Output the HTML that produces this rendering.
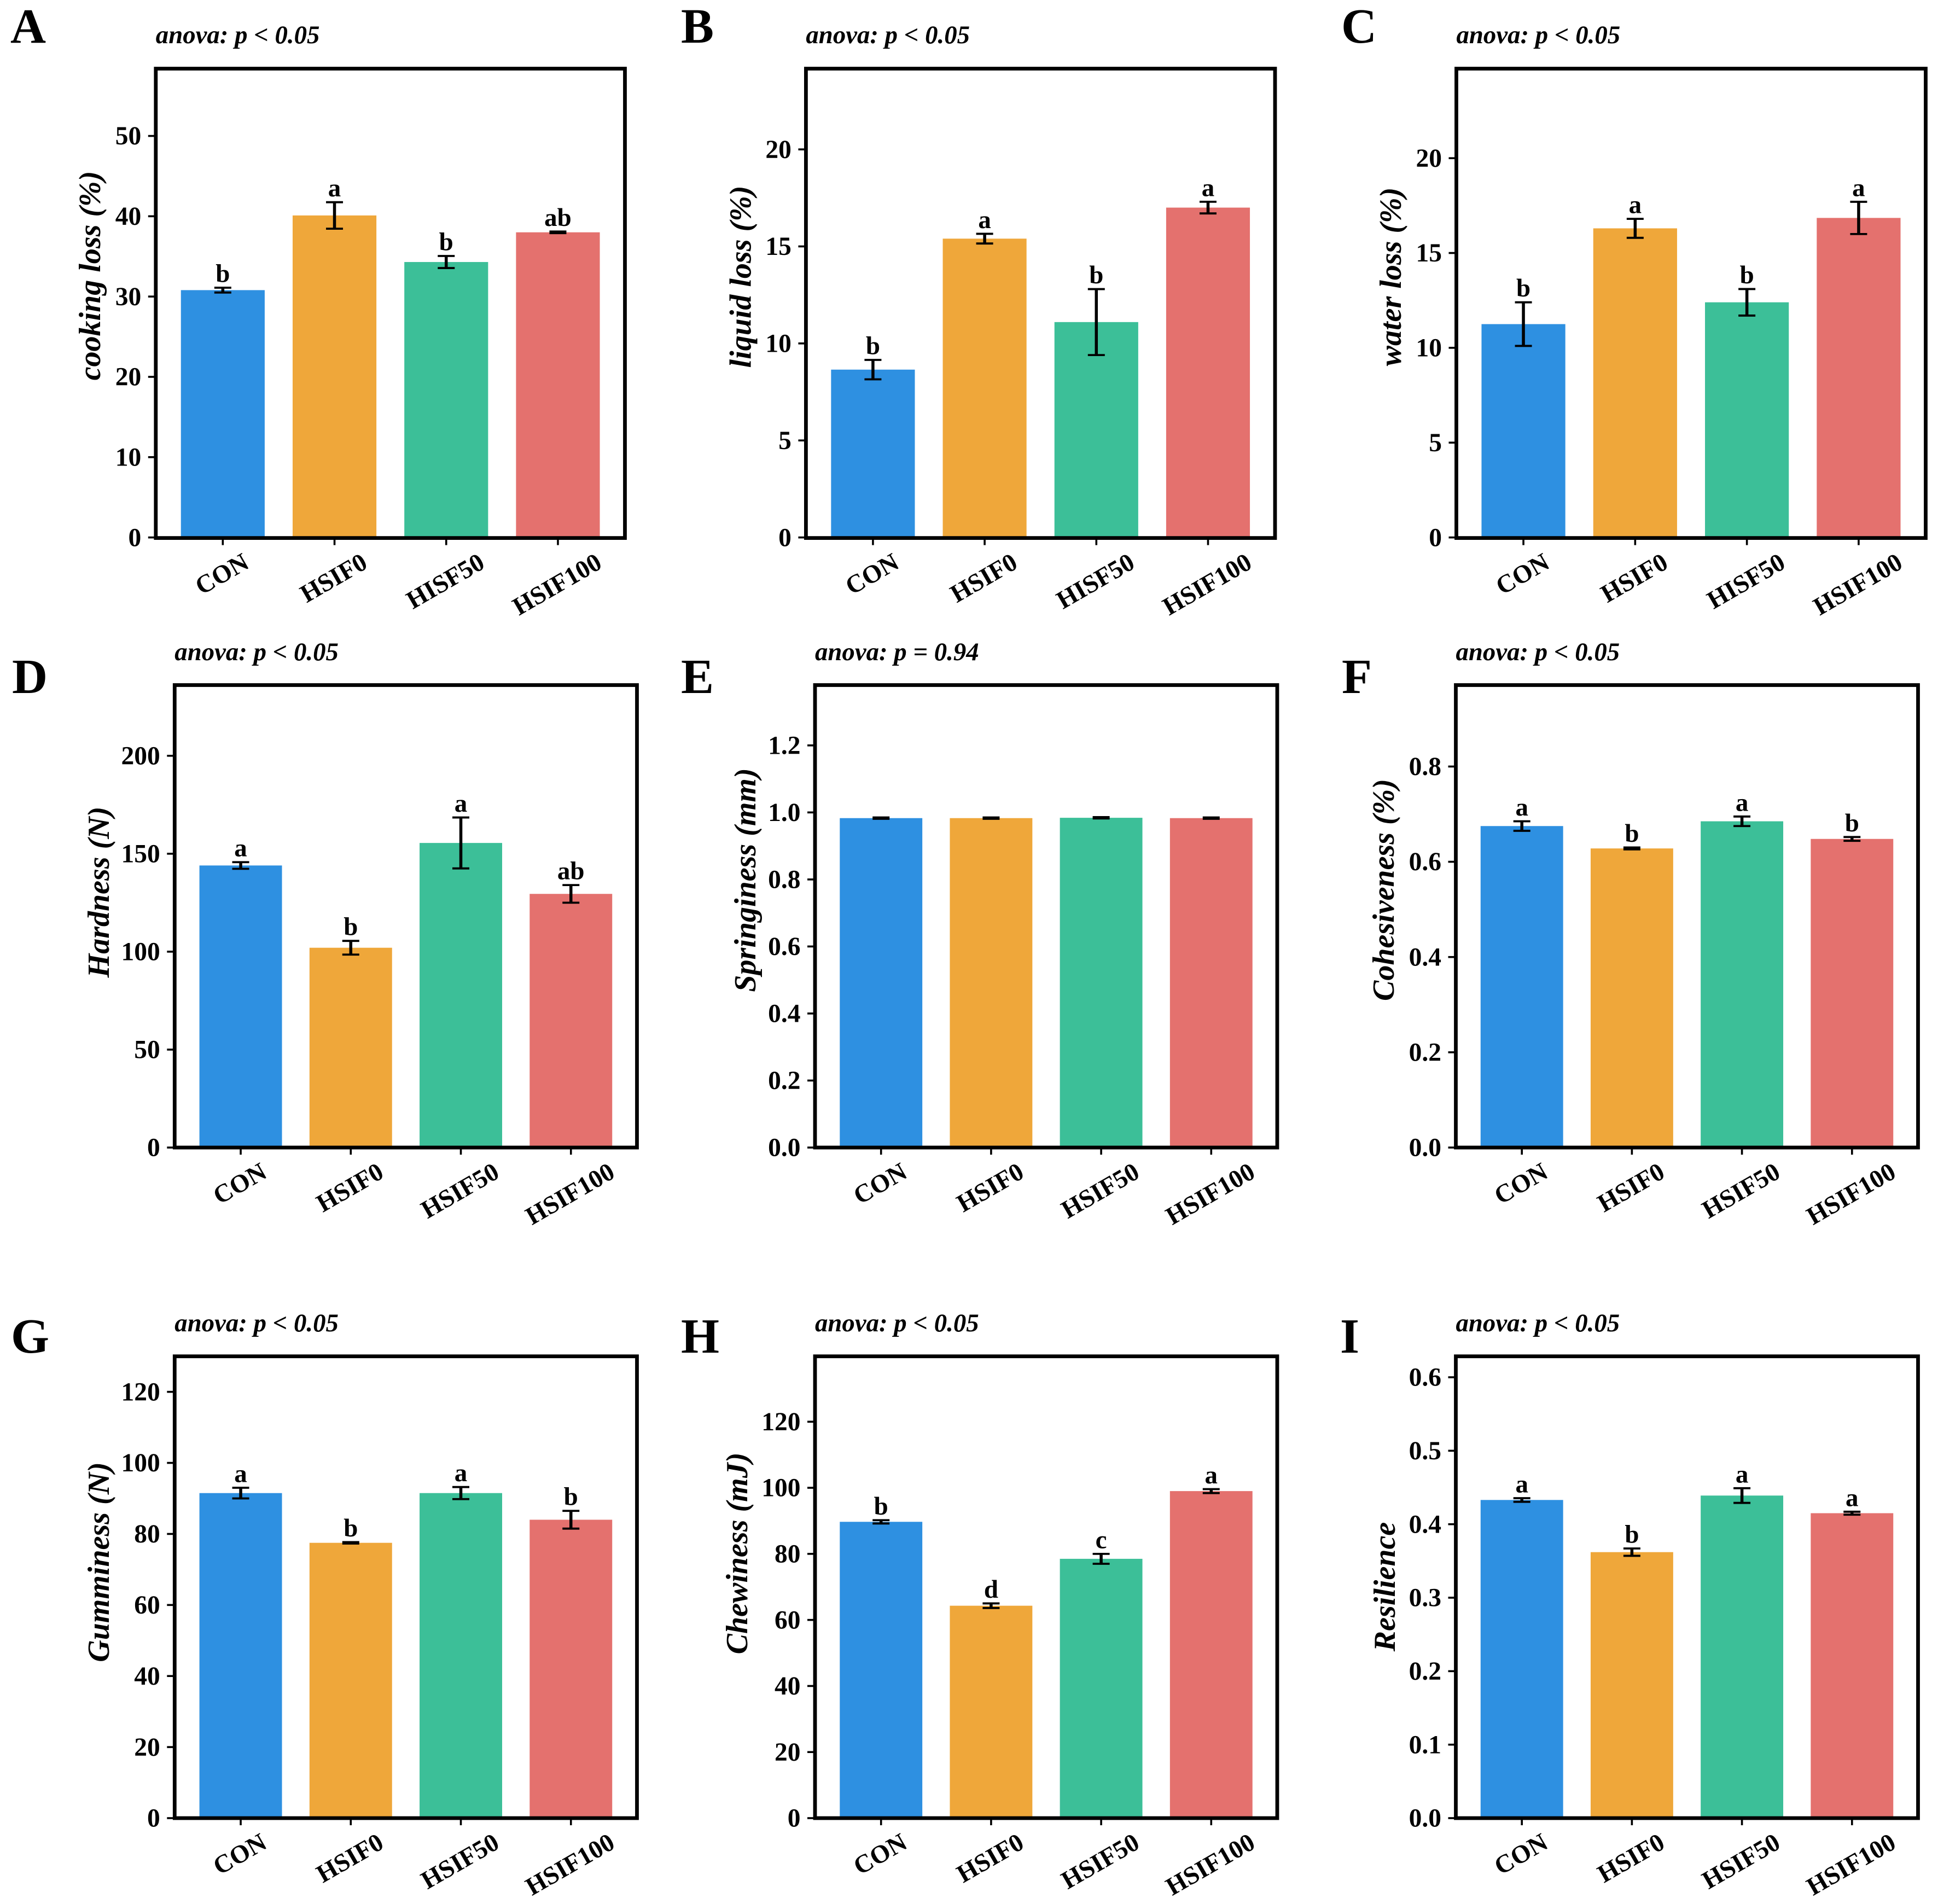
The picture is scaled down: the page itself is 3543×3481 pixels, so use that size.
<!DOCTYPE html>
<html lang="en">
<head>
<meta charset="utf-8">
<title>Cooking loss and texture panels</title>
<style>
html,body{margin:0;padding:0;background:#fff;}
svg{display:block;}
text{font-family:"Liberation Serif",serif;font-weight:bold;fill:#000;}
</style>
</head>
<body>
<svg id="figure" xmlns="http://www.w3.org/2000/svg" width="3543" height="3481" viewBox="0 0 3543 3481"></svg>
<script>
// Chart data
const categoriesA = ['CON', 'HSIF0', 'HISF50', 'HSIF100'];
const categoriesB = ['CON', 'HSIF0', 'HISF50', 'HSIF100'];
const categoriesC = ['CON', 'HSIF0', 'HISF50', 'HSIF100'];
const categoriesD = ['CON', 'HSIF0', 'HSIF50', 'HSIF100'];
const categoriesE = ['CON', 'HSIF0', 'HSIF50', 'HSIF100'];
const categoriesF = ['CON', 'HSIF0', 'HSIF50', 'HSIF100'];
const categoriesG = ['CON', 'HSIF0', 'HSIF50', 'HSIF100'];
const categoriesH = ['CON', 'HSIF0', 'HSIF50', 'HSIF100'];
const categoriesI = ['CON', 'HSIF0', 'HSIF50', 'HSIF100'];

const valuesA = [30.8, 40.1, 34.3, 38.0];
const errorsA = [0.3, 1.65, 0.75, 0.1];
const lettersA = ['b', 'a', 'b', 'ab'];
const ticksA = ['0', '10', '20', '30', '40', '50'];
const yMaxA = 58.45;

const valuesB = [8.65, 15.4, 11.1, 17.0];
const errorsB = [0.5, 0.25, 1.7, 0.3];
const lettersB = ['b', 'a', 'b', 'a'];
const ticksB = ['0', '5', '10', '15', '20'];
const yMaxB = 24.19;

const valuesC = [11.25, 16.3, 12.4, 16.85];
const errorsC = [1.15, 0.5, 0.7, 0.85];
const lettersC = ['b', 'a', 'b', 'a'];
const ticksC = ['0', '5', '10', '15', '20'];
const yMaxC = 24.75;

const valuesD = [144, 102, 155.5, 129.5];
const errorsD = [1.7, 3.5, 13, 4.5];
const lettersD = ['a', 'b', 'a', 'ab'];
const ticksD = ['0', '50', '100', '150', '200'];
const yMaxD = 236.1;

const valuesE = [0.983, 0.983, 0.984, 0.983];
const errorsE = [0.002, 0.002, 0.002, 0.002];
const lettersE = ['', '', '', ''];
const ticksE = ['0.0', '0.2', '0.4', '0.6', '0.8', '1.0', '1.2'];
const yMaxE = 1.38;

const valuesF = [0.675, 0.628, 0.685, 0.648];
const errorsF = [0.01, 0.002, 0.01, 0.004];
const lettersF = ['a', 'b', 'a', 'b'];
const ticksF = ['0.0', '0.2', '0.4', '0.6', '0.8'];
const yMaxF = 0.971;

const valuesG = [91.5, 77.5, 91.5, 84];
const errorsG = [1.5, 0.2, 1.7, 2.5];
const lettersG = ['a', 'b', 'a', 'b'];
const ticksG = ['0', '20', '40', '60', '80', '100', '120'];
const yMaxG = 130;

const valuesH = [89.7, 64.3, 78.5, 99];
const errorsH = [0.5, 0.7, 1.5, 0.6];
const lettersH = ['b', 'd', 'c', 'a'];
const ticksH = ['0', '20', '40', '60', '80', '100', '120'];
const yMaxH = 139.8;

const valuesI = [0.433, 0.362, 0.439, 0.415];
const errorsI = [0.0025, 0.005, 0.01, 0.002];
const lettersI = ['a', 'b', 'a', 'a'];
const ticksI = ['0.0', '0.1', '0.2', '0.3', '0.4', '0.5', '0.6'];
const yMaxI = 0.6285;

const barColors = ['#2E90E1', '#EFA73A', '#3CBF98', '#E4716E'];

// Panel layout
const panels = [
  {id:'A', cats:categoriesA, vals:valuesA, errs:errorsA, letters:lettersA, ticks:ticksA, yMax:yMaxA, title:'cooking loss (%)', anova:'anova: p < 0.05', L:284.8, R:1142.5, T:125.5, B:983.6, zeroLift:1, labX:183, labY:504, tagX:19, tagY:78, anovaY:79},
  {id:'B', cats:categoriesB, vals:valuesB, errs:errorsB, letters:lettersB, ticks:ticksB, yMax:yMaxB, title:'liquid loss (%)', anova:'anova: p < 0.05', L:1473.4, R:2331, T:125.5, B:983.6, zeroLift:1, labX:1372.5, labY:506, tagX:1245, tagY:78, anovaY:79},
  {id:'C', cats:categoriesC, vals:valuesC, errs:errorsC, letters:lettersC, ticks:ticksC, yMax:yMaxC, title:'water loss (%)', anova:'anova: p < 0.05', L:2662.5, R:3520.5, T:125.5, B:983.6, zeroLift:1, labX:2561, labY:506, tagX:2452, tagY:78, anovaY:79},
  {id:'D', cats:categoriesD, vals:valuesD, errs:errorsD, letters:lettersD, ticks:ticksD, yMax:yMaxD, title:'Hardness (N)', anova:'anova: p < 0.05', L:319.3, R:1164.5, T:1252.5, B:2098, zeroLift:0, labX:199, labY:1631, tagX:22, tagY:1267, anovaY:1207},
  {id:'E', cats:categoriesE, vals:valuesE, errs:errorsE, letters:lettersE, ticks:ticksE, yMax:yMaxE, title:'Springiness (mm)', anova:'anova: p = 0.94', L:1490, R:2335, T:1252.5, B:2098, zeroLift:0, labX:1381, labY:1609, tagX:1245, tagY:1267, anovaY:1207},
  {id:'F', cats:categoriesF, vals:valuesF, errs:errorsF, letters:lettersF, ticks:ticksF, yMax:yMaxF, title:'Cohesiveness (%)', anova:'anova: p < 0.05', L:2661.5, R:3506.5, T:1252.5, B:2098, zeroLift:0, labX:2548, labY:1627, tagX:2453, tagY:1267, anovaY:1207},
  {id:'G', cats:categoriesG, vals:valuesG, errs:errorsG, letters:lettersG, ticks:ticksG, yMax:yMaxG, title:'Gumminess (N)', anova:'anova: p < 0.05', L:319.3, R:1164.5, T:2479.7, B:3324, zeroLift:0, labX:199, labY:2856, tagX:20, tagY:2473, anovaY:2434},
  {id:'H', cats:categoriesH, vals:valuesH, errs:errorsH, letters:lettersH, ticks:ticksH, yMax:yMaxH, title:'Chewiness (mJ)', anova:'anova: p < 0.05', L:1490, R:2335, T:2479.7, B:3324, zeroLift:0, labX:1366, labY:2840, tagX:1245, tagY:2473, anovaY:2434},
  {id:'I', cats:categoriesI, vals:valuesI, errs:errorsI, letters:lettersI, ticks:ticksI, yMax:yMaxI, title:'Resilience', anova:'anova: p < 0.05', L:2661.5, R:3506.5, T:2479.7, B:3324, zeroLift:0, labX:2550, labY:2901, tagX:2450, tagY:2473, anovaY:2434}
];

const TICK_FONT = 47.5;
const XLABEL_FONT = 46.5;
const NS = 'http://www.w3.org/2000/svg';
const figure = document.getElementById('figure');

function make(tag, parent, attrs, content) {
  const el = document.createElementNS(NS, tag);
  for (const k in attrs) { el.setAttribute(k, attrs[k]); }
  if (content !== undefined) { el.textContent = content; }
  parent.appendChild(el);
  return el;
}

function drawPanel(p) {
  const key = p.id.toLowerCase();
  const g = make('g', figure, {});
  
  

  const xUnit = (p.R - p.L) / 4.2;
  const xScale = function (i) { return p.L + (i + 0.6) * xUnit; };
  const yScale = function (v) { return p.B - p.zeroLift - (v / p.yMax) * (p.B - p.T); };

  const tag = make('text', g, {x: p.tagX, y: p.tagY, 'font-size': 90}, p.id);
  
  

  const anova = make('text', g, {x: p.L, y: p.anovaY, 'font-size': 46.8, 'font-style': 'italic'}, p.anova);
  
  

  const yTitle = make('text', g, {x: p.labX, y: p.labY, 'font-size': 56, 'font-style': 'italic', 'text-anchor': 'middle', transform: 'rotate(-90 ' + p.labX + ' ' + p.labY + ')'}, p.title);
  
  

  p.vals.forEach(function (v, i) {
    const cx = xScale(i);
    const w = 0.75 * xUnit;
    const top = yScale(v);
    const bar = make('rect', g, {x: cx - w / 2, y: top, width: w, height: p.B - top, fill: barColors[i]});
    
    

    const hi = yScale(v + p.errs[i]);
    const lo = yScale(v - p.errs[i]);
    const stem = make('line', g, {x1: cx, x2: cx, y1: hi, y2: lo, stroke: '#000', 'stroke-width': 5.5});
    
    
    const caps = make('path', g, {d: 'M' + (cx - 15.5) + ' ' + hi + 'H' + (cx + 15.5) + 'M' + (cx - 15.5) + ' ' + lo + 'H' + (cx + 15.5), stroke: '#000', 'stroke-width': 3.8, fill: 'none'});
    
    

    if (p.letters[i]) {
      const sig = make('text', g, {x: cx, y: hi - 10.5, 'font-size': 47, 'text-anchor': 'middle'}, p.letters[i]);
      
      
    }

    const tick = make('line', g, {x1: cx, x2: cx, y1: p.B, y2: p.B + 13, stroke: '#000', 'stroke-width': 3.6});
    
    

    const lx = cx - 1;
    const label = make('text', g, {x: lx, y: 0, 'font-size': XLABEL_FONT, 'text-anchor': 'middle'}, p.cats[i]);
    
    
    const len = label.getComputedTextLength();
    const rotatedH = len * 0.5 + XLABEL_FONT * 1.15 * 0.866;
    const cy = p.B + 18 + rotatedH / 2;
    label.setAttribute('y', cy + XLABEL_FONT * 0.3);
    label.setAttribute('transform', 'rotate(-30 ' + lx + ' ' + cy + ')');
  });

  p.ticks.forEach(function (t) {
    const y = yScale(Number(t));
    const tick = make('line', g, {x1: p.L - 14, x2: p.L, y1: y, y2: y, stroke: '#000', 'stroke-width': 3.6});
    
    
    const label = make('text', g, {x: p.L - 26.5, y: y + TICK_FONT * 0.33, 'font-size': TICK_FONT, 'text-anchor': 'end'}, t);
    
    
  });

  const frame = make('rect', g, {x: p.L, y: p.T, width: p.R - p.L, height: p.B - p.T, fill: 'none', stroke: '#000', 'stroke-width': 6.8});
  
  
}

panels.forEach(drawPanel);
</script>
</body>
</html>
